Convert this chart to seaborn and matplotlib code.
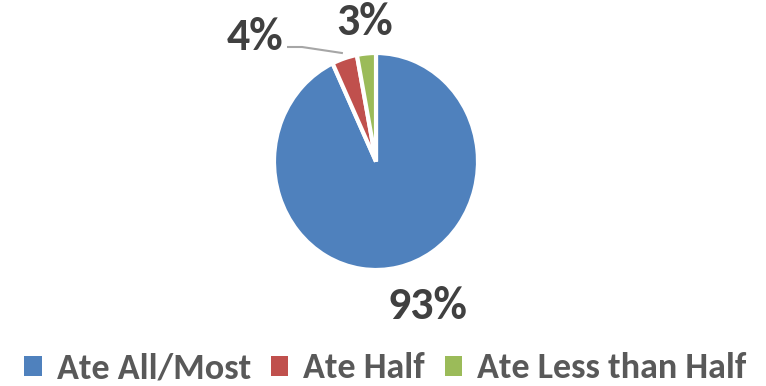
import numpy as np
import matplotlib
matplotlib.use("Agg")
import matplotlib.pyplot as plt
from matplotlib.patches import Patch
import seaborn as sns

categories = ["Ate All/Most", "Ate Half", "Ate Less than Half"]
shares = [93, 4, 3]
pct_labels = ["93%", "4%", "3%"]
colors = ["#4F81BD", "#C0504D", "#9BBB59"]
label_color = "#404040"
legend_color = "#595959"

sns.set_theme(style="white")
plt.rcParams["font.family"] = ["Carlito", "DejaVu Sans"]

W, H = 766, 386
fig = plt.figure(figsize=(W / 100, H / 100), dpi=100)
ax = fig.add_axes([0, 0, 1, 1])

# pie centre and (horizontal, vertical) radius in pixels
cx, cy, Rx, Ry = 376, 161.5, 102, 108.5
ax.pie(shares, colors=colors, startangle=90, counterclock=False,
       radius=1.0, center=(0, 0),
       wedgeprops=dict(edgecolor="white", linewidth=3))
ax.set_aspect("auto")
ax.set_xlim(-cx / Rx, (W - cx) / Rx)
ax.set_ylim((cy - H) / Ry, cy / Ry)
ax.axis("off")


def px(x, y):
    return (x - cx) / Rx, (cy - y) / Ry


label_px = [(427, 306), (255, 37), (365, 22)]
for lab, (x, y) in zip(pct_labels, label_px):
    tx, ty = px(x, y)
    ax.text(tx, ty, lab, ha="center", va="center", fontsize=33,
            fontweight="bold", color=label_color)

# leader line from "4%" to the red wedge
ang = np.deg2rad(90 - 360 * (shares[0] + shares[1] / 2) / sum(shares))
end = (1.05 * np.cos(ang), 1.05 * np.sin(ang))
p0 = px(287, 47)
p1 = px(302, 47)
ax.plot([p0[0], p1[0], end[0]], [p0[1], p1[1], end[1]],
        color="#A6A6A6", lw=1.5, solid_capstyle="butt")

handles = [Patch(facecolor=c, edgecolor="none") for c in colors]
leg = fig.legend(handles, categories, loc="center", ncol=3,
                 bbox_to_anchor=(385.5 / W, 1 - 368.5 / H), frameon=False,
                 borderpad=0, handlelength=0.48, handleheight=0.48,
                 handletextpad=0.42, columnspacing=0.55,
                 prop=dict(size=26, weight="bold"))
for t in leg.get_texts():
    t.set_color(legend_color)

fig.savefig("out.png", dpi=100)
